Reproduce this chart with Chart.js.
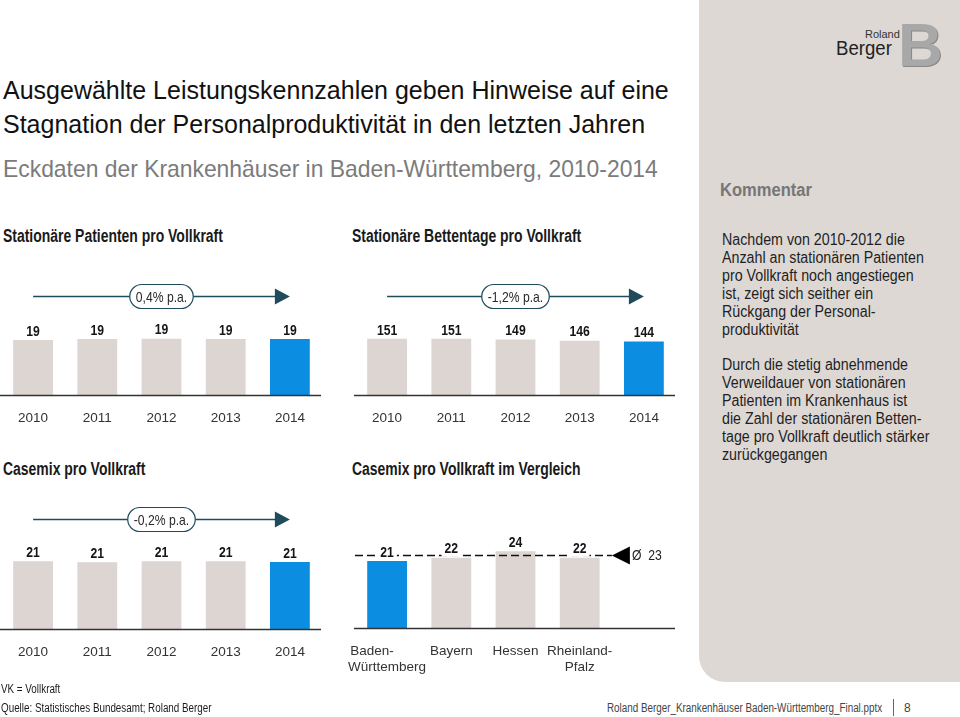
<!DOCTYPE html>
<html lang="de">
<head>
<meta charset="utf-8">
<script src="https://cdn.jsdelivr.net/npm/chart.js@4.4.1/dist/chart.umd.min.js"></script>
<style>
  html, body { margin: 0; padding: 0; background: #fff; }
  body { width: 960px; height: 717px; position: relative; overflow: hidden;
         font-family: "Liberation Sans", Arial, sans-serif; color: #1a1a1a; }
  .abs { position: absolute; white-space: nowrap; transform-origin: left top; }
  .n82 { transform: scaleX(0.82); }
  #panel { position: absolute; left: 699px; top: 0; width: 261px; height: 682px;
           background: #ded8d4; border-bottom-left-radius: 26px; }
  .title { left: 3px; top: 73px; font-size: 25px; line-height: 34px; color: #111; }
  .sub { left: 3px; top: 157px; font-size: 24px; line-height: 24px; color: #7b7b7b; transform: scaleX(0.953); }
  .head { font-size: 18px; line-height: 18px; font-weight: bold; color: #1a1a1a; transform: scaleX(0.775); }
  .comment { left: 722px; font-size: 16px; line-height: 18px; color: #1f1f1f; transform: scaleX(0.89); }
  .foot { font-size: 12px; line-height: 14px; }
  canvas { position: absolute; }
</style>
</head>
<body>
<div id="panel"></div>

<!-- logo -->
<div class="abs" style="left:865px;top:29px;font-size:11px;line-height:11px;color:#333;">Roland</div>
<div class="abs" style="left:836px;top:38px;font-size:20px;line-height:20px;color:#222;transform:scaleX(0.93);">Berger</div>
<div class="abs" style="left:898px;top:14px;font-size:62px;line-height:62px;font-weight:bold;color:#a8a8a8;
     text-shadow:1px 1px 0 #888;">B</div>

<div class="abs title">Ausgewählte Leistungskennzahlen geben Hinweise auf eine<br>Stagnation der Personalproduktivität in den letzten Jahren</div>
<div class="abs sub">Eckdaten der Krankenhäuser in Baden-Württemberg, 2010-2014</div>

<div class="abs head" style="left:3px;top:227px;">Stationäre Patienten pro Vollkraft</div>
<div class="abs head" style="left:352px;top:227px;">Stationäre Bettentage pro Vollkraft</div>
<div class="abs head" style="left:3px;top:460px;">Casemix pro Vollkraft</div>
<div class="abs head" style="left:352px;top:460px;">Casemix pro Vollkraft im Vergleich</div>

<div class="abs head" style="left:720px;top:181px;color:#767676;transform:scaleX(0.92);">Kommentar</div>
<div class="abs comment" style="top:231px;">Nachdem von 2010-2012 die<br>Anzahl an stationären Patienten<br>pro Vollkraft noch angestiegen<br>ist, zeigt sich seither ein<br>Rückgang der Personal-<br>produktivität</div>
<div class="abs comment" style="top:356px;">Durch die stetig abnehmende<br>Verweildauer von stationären<br>Patienten im Krankenhaus ist<br>die Zahl der stationären Betten-<br>tage pro Vollkraft deutlich stärker<br>zurückgegangen</div>

<canvas id="c1" width="326" height="200" style="left:0;top:250px;"></canvas>
<canvas id="c2" width="326" height="200" style="left:354px;top:250px;"></canvas>
<canvas id="c3" width="326" height="200" style="left:0;top:490px;"></canvas>
<canvas id="c4" width="346" height="200" style="left:334px;top:489px;"></canvas>

<div class="abs foot n82" style="left:1px;top:682px;">VK = Vollkraft</div>
<div class="abs foot n82" style="left:1px;top:701px;">Quelle: Statistisches Bundesamt; Roland Berger</div>
<div class="abs foot n82" style="left:607px;top:701px;color:#444;">Roland Berger_Krankenhäuser Baden-Württemberg_Final.pptx</div>
<div class="abs" style="left:893px;top:699px;width:1px;height:17px;background:#666;"></div>
<div class="abs foot" style="left:904px;top:701px;color:#444;">8</div>

<script>
const years = ["2010", "2011", "2012", "2013", "2014"];
const patientsPerVK = [19.0, 19.3, 19.4, 19.3, 19.3];
const bedDaysPerVK = [151, 151, 149, 146, 144];
const casemixPerVK = [21.2, 20.9, 21.2, 21.2, 21.0];
const states = [["Baden-        ", "Württemberg"], "Bayern", "Hessen", ["Rheinland-", "Pfalz"]];
const casemixStates = [21, 22, 24, 22];
const casemixAvg = 23;
const trendPatients = "0,4% p.a.";
const trendBedDays = "-1,2% p.a.";
const trendCasemix = "-0,2% p.a.";

const GREY = "#dcd5d1";
const BLUE = "#0b8ee2";
const TEAL = "#1f4b5c";
const FONT = '"Liberation Sans", Arial, sans-serif';
const SQUEEZE = 0.84;

// canvas text squeezed horizontally to mimic the condensed face of the slide
function narrowText(ctx, txt, x, y) {
  ctx.save();
  ctx.translate(x, y);
  ctx.scale(SQUEEZE, 1);
  ctx.fillText(txt, 0, 0);
  ctx.restore();
}

const slideMarks = {
  id: "slideMarks",
  afterDatasetsDraw(chart, args, o) {
    const ctx = chart.ctx;
    const area = chart.chartArea;
    const meta = chart.getDatasetMeta(0);
    ctx.save();

    // baseline
    ctx.strokeStyle = "#333";
    ctx.lineWidth = 1.5;
    ctx.beginPath();
    ctx.moveTo(area.left - 1, area.bottom + 0.5);
    ctx.lineTo(area.right - 1, area.bottom + 0.5);
    ctx.stroke();

    // average line
    if (o.avg != null) {
      const y = Math.round(chart.scales.y.getPixelForValue(o.avg)) + 0.5;
      const xEnd = chart.scales.x.getPixelForValue(4) - 32;
      ctx.strokeStyle = "#111";
      ctx.lineWidth = 1.5;
      ctx.setLineDash([8, 4]);
      ctx.beginPath();
      ctx.moveTo(area.left, y);
      ctx.lineTo(xEnd, y);
      ctx.stroke();
      ctx.setLineDash([]);
      ctx.fillStyle = "#000";
      ctx.beginPath();
      ctx.moveTo(xEnd, y);
      ctx.lineTo(xEnd + 18, y - 9);
      ctx.lineTo(xEnd + 18, y + 9);
      ctx.closePath();
      ctx.fill();
      ctx.font = "14.5px " + FONT;
      ctx.fillStyle = "#222";
      ctx.textAlign = "left";
      ctx.textBaseline = "middle";
      narrowText(ctx, "Ø  " + o.avg, xEnd + 20, y);
    }

    // value labels
    ctx.font = "bold 14.5px " + FONT;
    ctx.textAlign = "center";
    ctx.textBaseline = "bottom";
    const data = chart.data.datasets[0].data;
    meta.data.forEach((bar, i) => {
      if (data[i] == null) return;
      const txt = String(Math.round(data[i]));
      if (o.labelBg) {
        const w = ctx.measureText(txt).width * SQUEEZE + 6;
        ctx.fillStyle = "#fff";
        ctx.fillRect(bar.x - w / 2, bar.y - 15, w, 14);
      }
      ctx.fillStyle = "#151515";
      narrowText(ctx, txt, bar.x, bar.y - 1);
    });

    // trend arrow with pill
    if (o.trend) {
      const y = area.top + o.trendY + 0.5;
      const x0 = meta.data[0].x;
      const x1 = meta.data[meta.data.length - 1].x;
      ctx.strokeStyle = TEAL;
      ctx.fillStyle = TEAL;
      ctx.lineWidth = 1.5;
      ctx.beginPath();
      ctx.moveTo(x0, y);
      ctx.lineTo(x1 - 10, y);
      ctx.stroke();
      ctx.beginPath();
      ctx.moveTo(x1, y);
      ctx.lineTo(x1 - 15, y - 8);
      ctx.lineTo(x1 - 15, y + 8);
      ctx.closePath();
      ctx.fill();

      ctx.font = "14.5px " + FONT;
      const w = ctx.measureText(o.trend).width * SQUEEZE + 12;
      const h = 24;
      const cx = (x0 + x1) / 2;
      ctx.beginPath();
      ctx.roundRect(cx - w / 2, y - h / 2, w, h, 12);
      ctx.fillStyle = "#fff";
      ctx.fill();
      ctx.lineWidth = 1.2;
      ctx.stroke();
      ctx.fillStyle = "#2a2a2a";
      ctx.textAlign = "center";
      ctx.textBaseline = "middle";
      narrowText(ctx, o.trend, cx, y + 1);
    }
    ctx.restore();
  }
};

function makeBars(id, labels, values, highlight, yMax, axisHeight, marks, padLeft) {
  return new Chart(document.getElementById(id), {
    type: "bar",
    data: {
      labels: labels,
      datasets: [{
        data: values,
        backgroundColor: values.map((v, i) => i === highlight ? BLUE : GREY),
        barPercentage: 0.62,
        categoryPercentage: 1
      }]
    },
    options: {
      responsive: false,
      animation: false,
      devicePixelRatio: 1,
      layout: { padding: { left: padLeft || 1, right: 4, top: 0, bottom: 0 } },
      plugins: { legend: { display: false }, tooltip: { enabled: false }, slideMarks: marks },
      scales: {
        y: { display: false, min: 0, max: yMax },
        x: {
          grid: { display: false, drawTicks: false },
          border: { display: false },
          afterFit: axis => {
            axis.height = axisHeight;
            axis.paddingLeft = 0;
            axis.paddingRight = 0;
          },
          ticks: {
            color: "#333", padding: 15, autoSkip: false, maxRotation: 0, minRotation: 0,
            font: { family: FONT, size: 13.5 }
          }
        }
      }
    },
    plugins: [slideMarks]
  });
}

makeBars("c1", years, patientsPerVK, 4, 50, 55, { trend: trendPatients, trendY: 46 });
makeBars("c2", years, bedDaysPerVK, 4, 390, 55, { trend: trendBedDays, trendY: 46 });
makeBars("c3", years, casemixPerVK, 4, 43.5, 61, { trend: trendCasemix, trendY: 29 });
makeBars("c4", states.concat([""]), casemixStates.concat([null]), 0, 43.5, 61,
  { avg: casemixAvg, labelBg: true }, 21);
</script>
</body>
</html>
